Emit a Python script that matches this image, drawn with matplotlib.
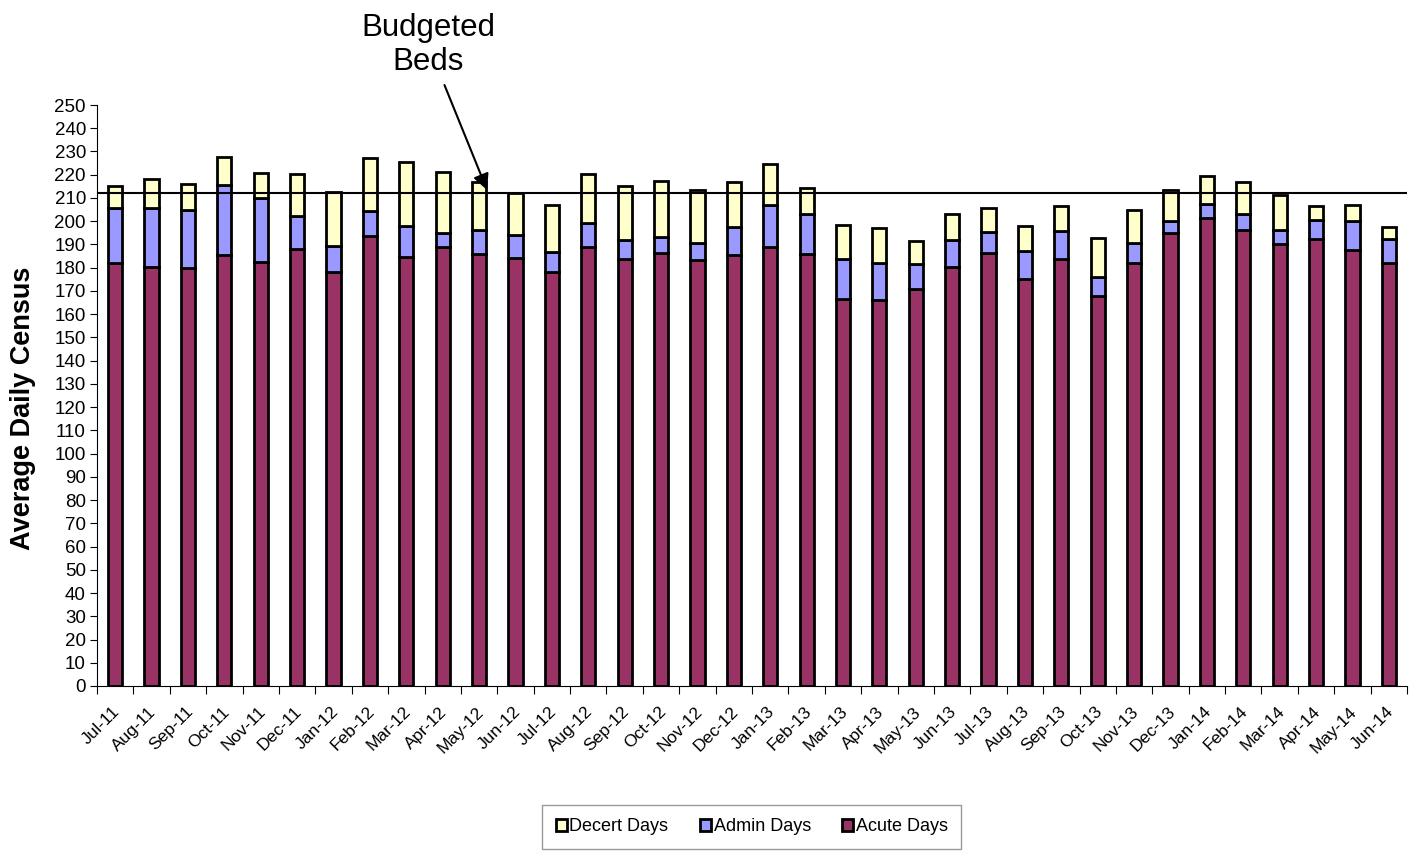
import matplotlib.pyplot as plt
import matplotlib.transforms as mtransforms
import numpy as np

plt.rcParams['font.family'] = ['Liberation Sans', 'DejaVu Sans']

months = ['Jul-11', 'Aug-11', 'Sep-11', 'Oct-11', 'Nov-11', 'Dec-11',
          'Jan-12', 'Feb-12', 'Mar-12', 'Apr-12', 'May-12', 'Jun-12',
          'Jul-12', 'Aug-12', 'Sep-12', 'Oct-12', 'Nov-12', 'Dec-12',
          'Jan-13', 'Feb-13', 'Mar-13', 'Apr-13', 'May-13', 'Jun-13',
          'Jul-13', 'Aug-13', 'Sep-13', 'Oct-13', 'Nov-13', 'Dec-13',
          'Jan-14', 'Feb-14', 'Mar-14', 'Apr-14', 'May-14', 'Jun-14']

acute = [182.2, 180.3, 179.7, 185.3, 182.6, 188.2, 178.1, 193.6, 184.7,
         188.9, 185.7, 184.0, 178.3, 188.8, 183.6, 186.2, 183.2, 185.3,
         189.0, 185.8, 166.4, 166.1, 170.7, 180.4, 186.3, 175.3, 183.7,
         168.0, 182.2, 195.1, 201.2, 196.1, 190.3, 192.3, 187.7, 181.9]
admin = [23.3, 25.5, 25.3, 30.1, 27.2, 13.9, 11.1, 10.6, 13.2,
         6.2, 10.7, 9.9, 8.6, 10.3, 8.4, 7.0, 7.6, 12.3,
         17.8, 17.3, 17.3, 15.8, 10.7, 11.4, 9.2, 12.0, 11.9,
         8.1, 8.4, 5.0, 6.3, 7.0, 5.8, 8.2, 12.5, 10.4]
decert = [9.6, 12.5, 10.9, 12.4, 10.9, 18.3, 23.4, 23.0, 27.7,
          25.9, 20.6, 18.2, 19.9, 21.1, 23.3, 24.2, 22.5, 19.4,
          17.7, 11.0, 14.5, 15.0, 9.9, 11.2, 10.2, 10.6, 10.9,
          16.5, 14.4, 13.5, 11.9, 13.6, 15.2, 6.0, 6.8, 5.3]
budgeted_beds = 212

fig = plt.figure(figsize=(14.12, 8.51), dpi=100)
ax = fig.add_axes([0.0687, 0.1939, 0.9278, 0.6827])

x = np.arange(len(months))
w = 0.39
acute = np.array(acute)
admin = np.array(admin)
decert = np.array(decert)

b1 = ax.bar(x, acute, w, color='#993366', edgecolor='black', linewidth=2, label='Acute Days')
b2 = ax.bar(x, admin, w, bottom=acute, color='#9999FF', edgecolor='black', linewidth=2, label='Admin Days')
b3 = ax.bar(x, decert, w, bottom=acute + admin, color='#FFFFCC', edgecolor='black', linewidth=2, label='Decert Days')

ax.axhline(budgeted_beds, color='black', linewidth=1.5)

ax.set_xlim(-0.5, len(months) - 0.5)
ax.set_ylim(0, 250)
ax.set_yticks(np.arange(0, 251, 10))
ax.tick_params(axis='y', direction='out', length=5, labelsize=13.5, pad=3)

# ticks on category boundaries, labels at centres
ax.set_xticks(np.arange(-0.5, len(months), 1))
ax.set_xticklabels([])
ax.tick_params(axis='x', which='major', direction='out', length=6)
ax.set_xticks(x, minor=True)
ax.set_xticklabels(months, minor=True, rotation=45, ha='right', rotation_mode='anchor', fontsize=12.5)
ax.tick_params(axis='x', which='minor', length=0, pad=13)
offset = mtransforms.ScaledTranslation(-0.03, 0, fig.dpi_scale_trans)
for lab in ax.get_xticklabels(minor=True):
    lab.set_transform(lab.get_transform() + offset)

for s in ['top', 'right']:
    ax.spines[s].set_visible(False)

ax.set_ylabel('Average Daily Census', fontsize=19.5, fontweight='bold')
ax.yaxis.set_label_coords(-0.0465, 0.4785)

ax.annotate('Budgeted\nBeds', xy=(10.22, 213.4), xytext=(8.6, 262),
            ha='center', va='bottom', fontsize=22.5, annotation_clip=False,
            arrowprops=dict(arrowstyle='-|>', color='black', lw=1.5, mutation_scale=24,
                            shrinkA=4, shrinkB=0))

leg = fig.legend([b3, b2, b1], ['Decert Days', 'Admin Days', 'Acute Days'],
                 loc='center', bbox_to_anchor=(0.5325, 0.0285), ncol=3, fontsize=13,
                 frameon=True, fancybox=False, edgecolor='#808080',
                 handlelength=0.6, handleheight=0.6, handletextpad=0.15,
                 columnspacing=1.75, borderpad=0.75)
leg.get_frame().set_linewidth(1.0)

fig.savefig('out.png', dpi=100)
